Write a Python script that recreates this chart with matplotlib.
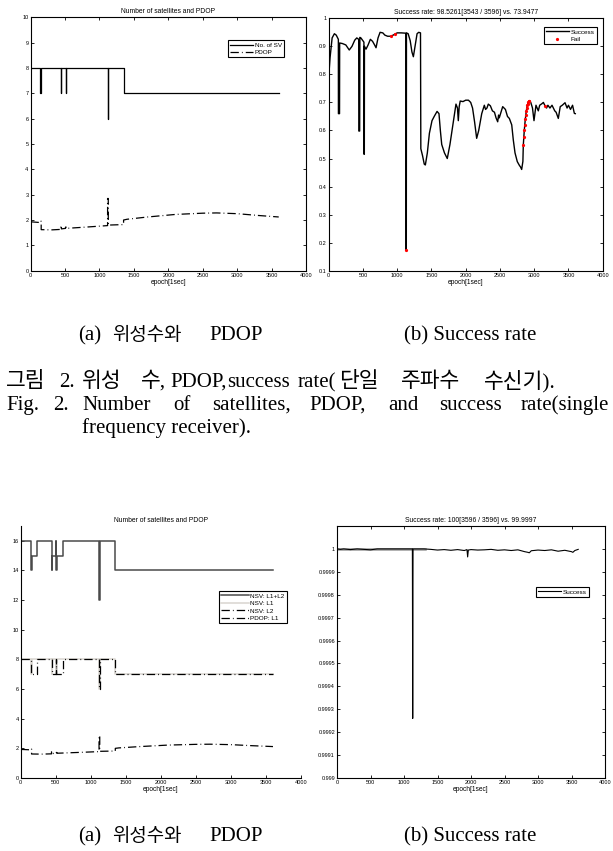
import matplotlib
matplotlib.use("Agg")
import matplotlib.pyplot as plt

plt.rcParams['font.family'] = ['Liberation Sans', 'DejaVu Sans']
plt.rcParams['lines.scale_dashes'] = False

W, H = 613, 851

# ---- (top a) single frequency: number of satellites and PDOP ----
nsv_epoch = [0, 145, 155, 440, 448, 508, 516, 1118, 1128, 1350, 3600]
nsv_l1 = [8, 7, 8, 7, 8, 7, 8, 6, 8, 7, 7]

pdop_epoch = [0, 145, 145, 155, 155, 300, 440, 440, 448, 448, 508, 508, 516, 516,
              800, 1118, 1118, 1128, 1128, 1350, 1350, 1400, 1700, 2100, 2500, 2700,
              3000, 3300, 3600]
pdop_l1 = [1.93, 1.9, 1.95, 1.95, 1.62, 1.61, 1.63, 1.78, 1.78, 1.65, 1.67, 1.72,
           1.72, 1.67, 1.72, 1.78, 2.85, 2.85, 1.8, 1.82, 2.0, 2.03, 2.12, 2.22,
           2.27, 2.28, 2.25, 2.18, 2.12]

# ---- (top b) success rate, single frequency: (epoch, rate) ----
sr_points = [
    (0, 0.79), (20, 0.86), (50, 0.93), (83, 0.945), (110, 0.94), (135, 0.928),
    (141, 0.925), (142, 0.66), (158, 0.66), (160, 0.912), (200, 0.91), (250, 0.905),
    (300, 0.887), (340, 0.9), (380, 0.922), (410, 0.93), (438, 0.925), (440, 0.598),
    (452, 0.598), (455, 0.932), (470, 0.93), (500, 0.92), (514, 0.915), (516, 0.515),
    (520, 0.515), (522, 0.9), (545, 0.89), (575, 0.905), (608, 0.925), (640, 0.918),
    (670, 0.905), (691, 0.895), (720, 0.93), (750, 0.95), (790, 0.948), (820, 0.94),
    (860, 0.936), (910, 0.936), (940, 0.94), (975, 0.945), (1000, 0.948), (1060, 0.948),
    (1120, 0.947), (1128, 0.946), (1130, 0.174), (1133, 0.174), (1135, 0.948),
    (1160, 0.945), (1190, 0.92), (1215, 0.88), (1236, 0.863), (1260, 0.9), (1290, 0.945),
    (1314, 0.95), (1340, 0.948), (1345, 0.535), (1370, 0.51), (1395, 0.48), (1411, 0.477),
    (1440, 0.52), (1470, 0.59), (1508, 0.635), (1540, 0.65), (1582, 0.668), (1610, 0.66),
    (1630, 0.6), (1650, 0.55), (1690, 0.52), (1731, 0.5), (1770, 0.55), (1800, 0.6),
    (1835, 0.66), (1858, 0.694), (1880, 0.68), (1892, 0.635), (1905, 0.685), (1920, 0.705),
    (1960, 0.703), (2000, 0.708), (2040, 0.708), (2073, 0.7), (2100, 0.68), (2130, 0.63),
    (2160, 0.572), (2190, 0.6), (2234, 0.66), (2272, 0.69), (2290, 0.675), (2310, 0.68),
    (2330, 0.694), (2360, 0.688), (2390, 0.67), (2420, 0.665), (2443, 0.645), (2467, 0.631),
    (2480, 0.655), (2490, 0.645), (2540, 0.685), (2580, 0.675), (2610, 0.65), (2637, 0.643),
    (2672, 0.62), (2695, 0.566), (2720, 0.52), (2753, 0.489), (2785, 0.475), (2800, 0.47),
    (2817, 0.461), (2835, 0.49), (2841, 0.548), (2855, 0.6), (2870, 0.64), (2885, 0.67),
    (2900, 0.69), (2915, 0.702), (2930, 0.706), (2950, 0.7), (2975, 0.68), (2997, 0.635),
    (3026, 0.69), (3060, 0.67), (3080, 0.69), (3110, 0.695), (3134, 0.7), (3158, 0.688),
    (3180, 0.68), (3200, 0.69), (3230, 0.68), (3260, 0.69), (3300, 0.67), (3320, 0.665),
    (3352, 0.643), (3380, 0.685), (3410, 0.69), (3450, 0.699), (3480, 0.68), (3500, 0.69),
    (3530, 0.675), (3560, 0.69), (3586, 0.661), (3600, 0.66),
]
sr_epoch = [p[0] for p in sr_points]
sr_value = [p[1] for p in sr_points]

fail_epoch = [910, 975, 1131, 2841, 2848, 2855, 2862, 2870, 2877, 2885, 2892, 2900,
              2907, 2915, 2922, 2930, 3158]
fail_value = [0.936, 0.945, 0.174, 0.548, 0.575, 0.6, 0.62, 0.64, 0.655, 0.67,
              0.68, 0.69, 0.696, 0.702, 0.704, 0.706, 0.688]

# ---- (bottom a) dual frequency: number of satellites and PDOP ----
nsv2_epoch = [0, 145, 155, 238, 440, 448, 500, 506, 516, 600, 1118, 1128, 1350, 3600]
nsv_l1l2 = [16, 14, 15, 16, 14, 15, 16, 14, 15, 16, 12, 16, 14, 14]

l1_epoch = [0, 145, 155, 440, 448, 508, 516, 1118, 1128, 1350, 3600]
l1_nsv = [8, 7, 8, 7, 8, 7, 8, 6, 8, 7, 7]

l2_epoch = [0, 145, 238, 440, 500, 506, 600, 1118, 1128, 1350, 3600]
l2_nsv = [8, 7, 8, 7, 8, 7, 8, 6, 8, 7, 7]

# ---- (bottom b) success rate, dual frequency: (epoch, rate) ----
sr2_points = [
    (0, 1), (50, 0.999998), (100, 1), (200, 0.999997), (300, 1), (400, 0.999998),
    (500, 0.999996), (600, 1), (1125, 1), (1130, 0.99926), (1135, 1), (1300, 1),
    (1400, 0.999998), (1500, 0.999995), (1600, 0.999997), (1700, 0.999994),
    (1800, 0.999997), (1900, 0.999993), (1940, 0.999997), (1950, 0.999965),
    (1960, 0.999995), (2000, 0.999997), (2100, 0.999995), (2200, 0.999996),
    (2300, 0.999998), (2400, 0.999994), (2500, 0.999996), (2600, 0.999993),
    (2700, 0.999996), (2800, 0.999988), (2850, 0.999985), (2870, 0.999983),
    (2900, 0.999992), (3000, 0.999995), (3100, 0.999993), (3200, 0.999996),
    (3300, 0.99999), (3400, 0.999994), (3500, 0.999988), (3520, 0.999985),
    (3550, 0.999993), (3600, 0.999998),
]
sr2_epoch = [p[0] for p in sr2_points]
sr2_value = [p[1] for p in sr2_points]
ref_epoch = [0, 1320]
ref_value = [1, 1]

x_ticks = list(range(0, 4001, 500))

fig = plt.figure(figsize=(W / 100, H / 100), dpi=100)


def px_axes(x0, y0, x1, y1):
    return fig.add_axes([x0 / W, 1 - y1 / H, (x1 - x0) / W, (y1 - y0) / H])


def matlab_style(ax, box=True):
    for s in ax.spines.values():
        s.set_linewidth(0.8)
    if not box:
        ax.spines['top'].set_visible(False)
        ax.spines['right'].set_visible(False)
    ax.tick_params(direction='in', length=2.5, width=0.6, labelsize=4.0, pad=1.5,
                   top=box, right=box)
    ax.set_xlim(0, 4000)
    ax.set_xticks(x_ticks)
    ax.set_xlabel('epoch[1sec]', fontsize=4.8, labelpad=1)


def legend(ax, anchor, hlen=3.6):
    leg = ax.legend(loc='upper right', bbox_to_anchor=anchor, fontsize=4.6,
                    fancybox=False, edgecolor='black', framealpha=1, borderpad=0.35,
                    handlelength=hlen, handletextpad=0.3, labelspacing=0.3,
                    borderaxespad=0)
    leg.get_frame().set_linewidth(0.8)


dashdot = (0, (6, 2.2, 0.6, 2.2))

# top left
ax1 = px_axes(30.5, 17.3, 306.3, 270.7)
matlab_style(ax1)
ax1.plot(nsv_epoch, nsv_l1, color='black', lw=0.9, drawstyle='steps-post', label='No. of SV')
ax1.plot(pdop_epoch, pdop_l1, color='black', lw=0.9, linestyle=dashdot, label='PDOP')
ax1.set_ylim(0, 10)
ax1.set_yticks(range(0, 11))
ax1.set_title('Number of satellites and PDOP', fontsize=4.9, pad=3)
legend(ax1, (0.92, 0.91))

# top right
ax2 = px_axes(328.7, 18.3, 602.7, 270.7)
matlab_style(ax2)
ax2.plot(sr_epoch, sr_value, color='black', lw=1.0, label='Success')
ax2.plot(fail_epoch, fail_value, linestyle='none', marker='.', markersize=2.6,
         color='red', label='Fail')
ax2.set_ylim(0.1, 1)
yt = [i / 10 for i in range(1, 11)]
ax2.set_yticks(yt)
ax2.set_yticklabels([f'{v:g}' for v in yt])
ax2.set_title('Success rate: 98.5261[3543 / 3596] vs. 73.9477', fontsize=4.9, pad=3)
legend(ax2, (0.979, 0.966))

# bottom left
ax3 = px_axes(20.7, 526, 301, 778)
matlab_style(ax3, box=False)
ax3.plot(nsv2_epoch, nsv_l1l2, color='#4a4a4a', lw=1.1, drawstyle='steps-post', label='NSV: L1+L2')
ax3.plot(l1_epoch, l1_nsv, color='#d8d5cf', lw=1.1, drawstyle='steps-post', label='NSV: L1')
ax3.plot(l2_epoch, l2_nsv, color='black', lw=0.9, drawstyle='steps-post', linestyle=dashdot,
         label='NSV: L2')
ax3.plot(pdop_epoch, pdop_l1, color='black', lw=0.9, linestyle=dashdot, label='PDOP: L1')
ax3.set_ylim(0, 17)
ax3.set_yticks(range(0, 17, 2))
ax3.set_title('Number of satellites and PDOP', fontsize=4.9, pad=3)
legend(ax3, (0.95, 0.742), hlen=4.3)

# bottom right
ax4 = px_axes(337, 526, 605, 778)
matlab_style(ax4)
ax4.plot(ref_epoch, ref_value, color='#9a9a9a', lw=1.8)
ax4.plot(sr2_epoch, sr2_value, color='black', lw=0.8, label='Success')
ax4.set_ylim(0.999, 1.0001)
yt4 = [0.999 + i * 0.0001 for i in range(11)]
ax4.set_yticks(yt4)
ax4.set_yticklabels(['0.999'] + [f'{0.999 + i * 0.0001:.4f}' for i in range(1, 10)] + ['1'])
ax4.set_title('Success rate: 100[3596 / 3596] vs. 99.9997', fontsize=4.9, pad=3)
legend(ax4, (0.94, 0.758))

# captions (Times-like for Latin, CJK sans for Hangul)
serif = ['Liberation Serif', 'Noto Sans CJK KR']
lat, kor, kor_cap = 15, 15.5, 13.6


def ftext(x, y, s, size=lat, ha='left'):
    fig.text(x / W, 1 - y / H, s, ha=ha, va='baseline', fontsize=size, family=serif)


for base in (340, 841):
    ftext(78, base, '(a)')
    ftext(112, base, '위성수와', kor_cap)
    ftext(209, base, 'PDOP')
    ftext(404, base, '(b) Success rate')

cap_line = [('그림', 6, kor), ('2.', 59, lat), ('위성', 82, kor), ('수,', 141, kor),
            ('PDOP,', 170, lat), ('success', 227, lat), ('rate(', 298, lat),
            ('단일', 339, kor), ('주파수', 401, kor), ('수신기).', 484, kor)]
for wd, wx, sz in cap_line:
    ftext(wx, 387, wd, sz)

fig_words = ['Fig.', '2.', 'Number', 'of', 'satellites,', 'PDOP,', 'and', 'success', 'rate(single']
fig_word_x = [6, 53, 82, 173, 212, 309, 388, 439, 521]
for wx, wd in zip(fig_word_x, fig_words):
    ftext(wx, 410, wd)
ftext(82, 433, 'frequency receiver).')

fig.savefig('out.png', dpi=100)
